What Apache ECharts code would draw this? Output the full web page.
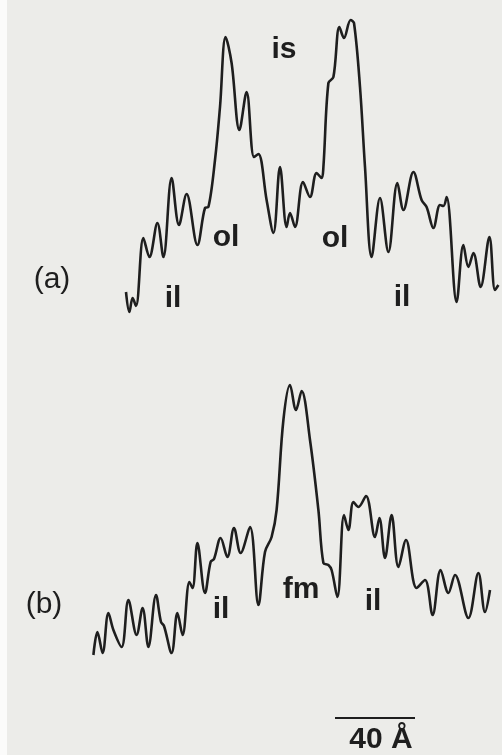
<!DOCTYPE html>
<html><head><meta charset="utf-8">
<script src="https://cdn.jsdelivr.net/npm/echarts@6/dist/echarts.min.js"></script>
<style>html,body{margin:0;padding:0;background:#ecece9;}#c{width:502px;height:755px;}</style>
</head><body><div id="c"></div>
<script>
// x: distance in Å, y: optical density (arbitrary units)
const traceA_x = [63,64.7,66.3,68,71.7,74.7,78.7,81.7,85.8,89.5,93.3,98.7,102.5,104.2,107.5,110,112.8,115.8,119.7,123.3,127,129.2,133.3,136.7,140,143.3,145,147.5,151.5,155,158.3,160.8,161.7,164.2,166.7,169.7,172,175.3,177,180,182.5,185.8,190,194.2,198.7,201.7,206.7,210.8,213.3,216.7,220,221.7,223.3,228.3,231.7,234.2,236.7,240.3,244.7,247.5,249.2];
const traceA_y = [3.8,1.8,3.2,2.4,9.2,7.3,10.7,7.3,15.2,10.5,13.6,8.5,12.2,12.3,17.0,22.3,29.3,26.7,20.0,23.8,17.3,17.6,13.0,9.7,16.3,10.3,11.7,10.3,14.8,13.3,15.7,15.2,16.3,24.7,25.3,30.3,29.2,31.0,30.7,24.3,16.3,7.3,13.2,7.8,14.7,12.0,15.8,13.0,12.3,10.2,12.5,12.4,13.3,2.8,8.5,6.3,7.7,4.3,9.3,4.0,4.5];
const traceB_x = [46.7,48.7,51.3,54.2,56.7,60.8,64.2,68.3,71.3,74.2,78,80.5,82,85.8,88.7,91.3,94.7,96.3,98.7,102.5,105.3,107,110.3,113.7,117,120.3,125,129.2,132.5,135.8,138.3,141.7,145,148,150.8,155,159.2,161.7,164.2,165.8,168.7,172,174.2,176.7,179.2,183,187.5,189.7,192.5,195.8,199.2,203,208.3,212.5,216.3,220.3,224.2,227.5,234.2,239.2,242.5,245];
const traceB_y = [3.5,5.8,3.7,7.7,6.0,4.3,9.0,5.5,8.2,4.3,9.5,6.8,6.4,3.7,7.7,5.5,10.8,10.2,14.7,9.7,12.8,13.1,15.2,13.3,16.2,13.7,16.3,8.5,13.8,15.3,18.0,27.0,30.5,28.0,29.9,25.0,18.0,12.7,12.5,12.0,9.3,17.5,16.0,18.8,18.3,19.4,15.3,17.2,13.2,17.5,12.3,15.0,10.2,11.0,7.5,12.0,9.7,11.5,7.2,11.7,7.8,10.0];
const scaleBar_x = [167.5, 207.5]; // 40 Å
const scaleBar_y = -2.8;
const labelsA = [{t:'is',x:142,y:28},{t:'ol',x:113,y:9.2},{t:'ol',x:167.5,y:9.1},{t:'il',x:86.5,y:3.1},{t:'il',x:201,y:3.2}];
const labelsB = [{t:'fm',x:150.5,y:10},{t:'il',x:110.5,y:8.0},{t:'il',x:186.5,y:8.8},{t:'40 Å',x:190.5,y:-5.0}];
const panelLabelsA = [{t:'(a)',x:26,y:5.0}];
const panelLabelsB = [{t:'(b)',x:22,y:8.5}];

const zip = (xs, ys) => xs.map((v,i)=>[v, ys[i]]);
const ink = '#1e1e1e';
const font = '"Liberation Sans", Arial, sans-serif';
function textSeries(arr, gi, weight){
  return {type:'scatter', xAxisIndex:gi, yAxisIndex:gi, symbolSize:0, silent:true,
    itemStyle:{color:ink, opacity:1},
    data: arr.map(d=>({value:[d.x,d.y], label:{formatter:d.t}})),
    label:{show:true, position:'inside', color:ink, opacity:1, textBorderWidth:0, textBorderColor:'transparent',
      fontSize:30, fontWeight:weight, fontFamily:font}};
}
const chart = echarts.init(document.getElementById('c'), null, {renderer:'canvas'});
chart.setOption({
  backgroundColor:'#ecece9',
  animation:false,
  grid:[{left:0,top:0,width:502,height:360},{left:0,top:360,width:502,height:395}],
  xAxis:[{type:'value',gridIndex:0,min:0,max:251,show:false},{type:'value',gridIndex:1,min:0,max:251,show:false}],
  yAxis:[{type:'value',gridIndex:0,min:-3,max:33,show:false},{type:'value',gridIndex:1,min:-6.5,max:33,show:false}],
  graphic:[{type:'rect',left:0,top:0,shape:{width:7,height:755},style:{fill:'#fbfbfa'}}],
  series:[
    {type:'line',xAxisIndex:0,yAxisIndex:0,data:zip(traceA_x,traceA_y),smooth:0.35,symbol:'none',lineStyle:{color:ink,width:2.6}},
    {type:'line',xAxisIndex:1,yAxisIndex:1,data:zip(traceB_x,traceB_y),smooth:0.35,symbol:'none',lineStyle:{color:ink,width:2.6}},
    {type:'line',xAxisIndex:1,yAxisIndex:1,data:scaleBar_x.map(v=>[v,scaleBar_y]),symbol:'none',lineStyle:{color:ink,width:2.2}},
    textSeries(labelsA,0,'bold'), textSeries(labelsB,1,'bold'),
    textSeries(panelLabelsA,0,'normal'), textSeries(panelLabelsB,1,'normal')
  ]
});
</script></body></html>
